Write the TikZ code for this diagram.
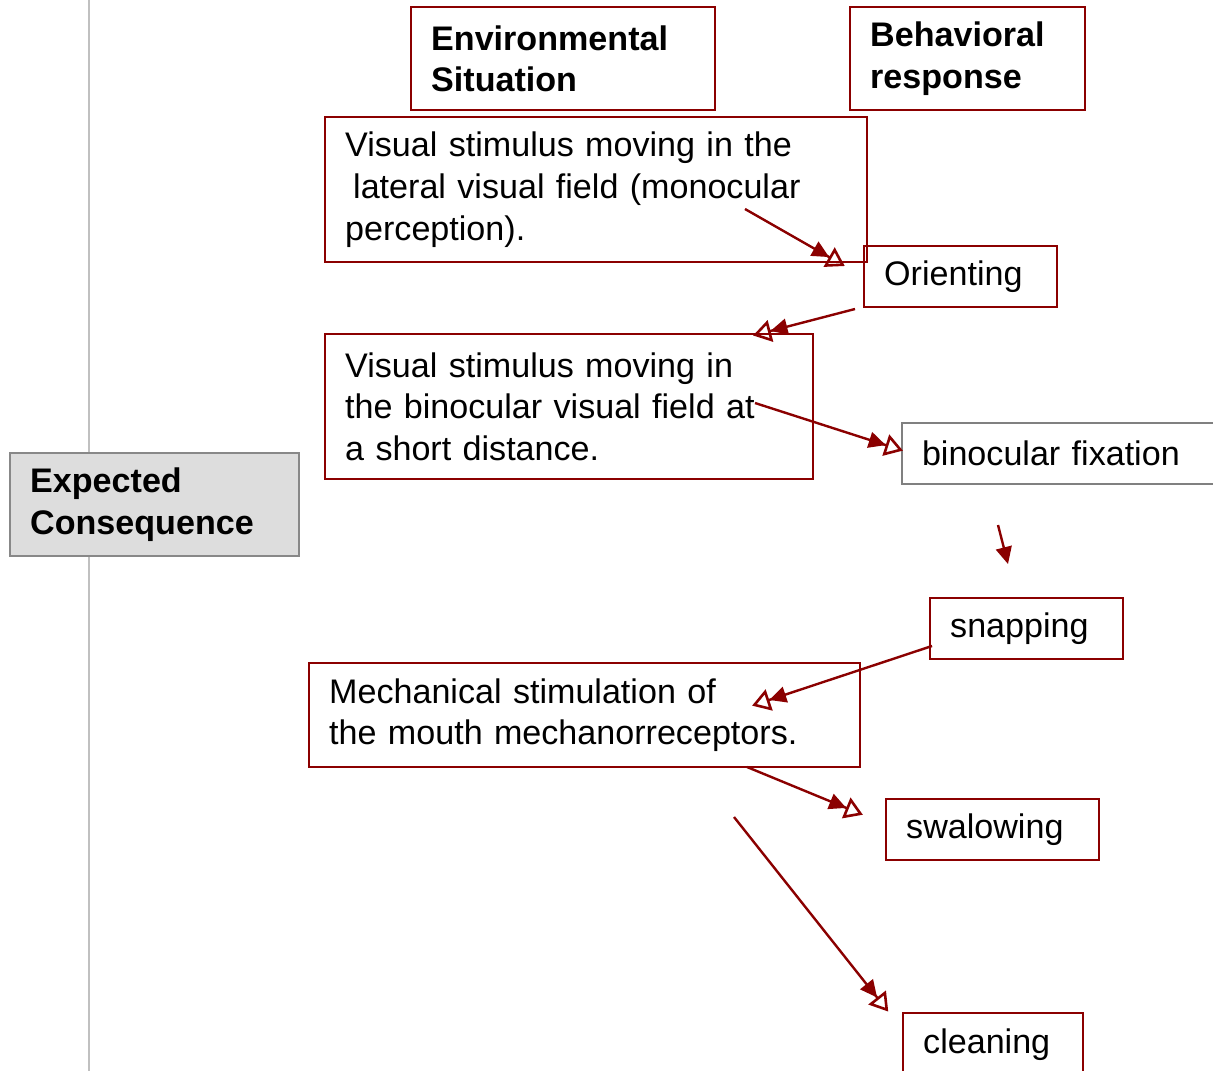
\documentclass[tikz,border=0pt]{standalone}
\usepackage{fontspec}
\setmainfont{Liberation Sans}
\usetikzlibrary{arrows.meta}
\definecolor{dkred}{HTML}{8B0000}
\definecolor{ecfill}{HTML}{DDDDDD}
\definecolor{ecline}{HTML}{888888}
\definecolor{axisgray}{HTML}{C0C0C0}
\begin{document}
\begin{tikzpicture}[x=1pt,y=-1pt,
 box/.style={draw=dkred,line width=2.4pt,anchor=north west,align=left,inner xsep=20pt,inner ysep=0pt,font=\fontsize{34.1}{41.6}\selectfont},
 hbox/.style={box,font=\fontsize{34.1}{41.6}\selectfont\bfseries},
 arr/.style={draw=dkred,line width=2.4pt,shorten >=6pt,-{Triangle[length=17pt,width=16pt] Triangle[open,length=18pt,width=22pt,line width=2.6pt,sep=-8pt]}},
 arrf/.style={draw=dkred,line width=2.4pt,-{Triangle[length=17pt,width=16pt]}}]
\useasboundingbox (0,0) rectangle (1213,1071);
\clip (0,0) rectangle (1213,1071);
\fill[white] (0,0) rectangle (1213,1071);
\coordinate (vtop) at (89,0);
\coordinate (vbot) at (89,1071);
\draw[axisgray,line width=2pt] (vtop) -- (vbot);
\node[hbox,draw=ecline,fill=ecfill,text width=249pt,minimum height=103pt] (ec) at (9,452) {Expected\\Consequence};
\node[hbox,text width=264pt,minimum height=103pt] (env) at (410,6) {Environmental\\Situation};
\node[hbox,text width=195pt,minimum height=103pt] (beh) at (849,6) {Behavioral\\response};
\node[box,text width=502pt,minimum height=145pt] (v1) at (324,116) {Visual stimulus moving in the\\\hspace*{8pt}lateral visual field (monocular\\perception).};
\node[box,text width=153pt,minimum height=61pt] (ori) at (863,245) {Orienting};
\node[box,text width=448pt,minimum height=145pt] (v2) at (324,333) {Visual stimulus moving in\\the binocular visual field at\\a short distance.};
\node[box,draw=gray,line width=2pt,text width=300pt,minimum height=61pt] (bin) at (901,422) {binocular fixation};
\node[box,text width=153pt,minimum height=61pt] (snap) at (929,597) {snapping};
\node[box,text width=511pt,minimum height=104pt] (mech) at (308,662) {Mechanical stimulation of\\the mouth mechanorreceptors.};
\node[box,text width=173pt,minimum height=61pt] (swal) at (885,798) {swalowing};
\node[box,text width=140pt,minimum height=62pt] (clean) at (902,1012) {cleaning};
\coordinate (a1s) at (745,209);
\coordinate (a1e) at (843,265);
\coordinate (a2s) at (855,309);
\coordinate (a2e) at (755,335);
\coordinate (a3s) at (755,403);
\coordinate (a3e) at (901,450);
\coordinate (a4s) at (998,525);
\coordinate (a4e) at (1008,564);
\coordinate (a5s) at (932,646);
\coordinate (a5e) at (754,705);
\coordinate (a6s) at (747,767);
\coordinate (a6e) at (861,814);
\coordinate (a7s) at (734,817);
\coordinate (a7e) at (887,1010);
\draw[arr] (a1s) -- (a1e);
\draw[arr] (a2s) -- (a2e);
\draw[arr] (a3s) -- (a3e);
\draw[arrf] (a4s) -- (a4e);
\draw[arr] (a5s) -- (a5e);
\draw[arr] (a6s) -- (a6e);
\draw[arr] (a7s) -- (a7e);
\end{tikzpicture}
\end{document}
